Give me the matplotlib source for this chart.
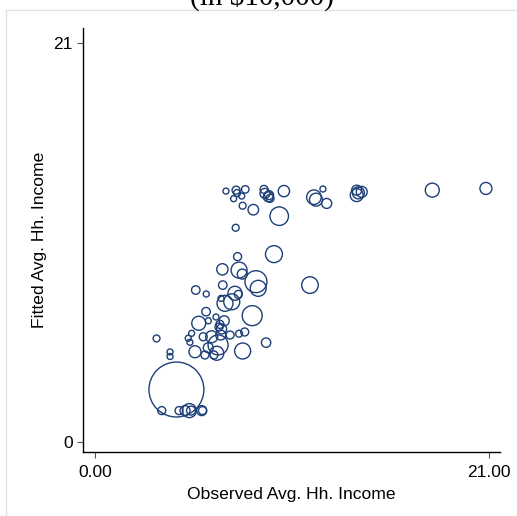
import numpy as np
import matplotlib
matplotlib.use('Agg')
from matplotlib import pyplot as plt
from matplotlib.patches import Rectangle

# observed vs fitted average household income (in $10,000), bubble weight = population
observed = [6.98, 7.52, 7.57, 7.82, 8.01, 7.39, 7.87, 8.44, 9.01, 9.06,
            9.24, 9.33, 9.28, 10.07, 9.82, 7.50, 11.67, 11.78, 12.15, 12.35,
            13.95, 14.04, 14.22, 13.95, 17.98, 20.84,
            9.54, 7.60, 6.79, 7.68, 7.85, 8.58, 8.70, 11.46, 6.81, 5.37,
            5.93, 7.46, 7.64, 6.93, 7.29, 6.72, 8.38, 5.92, 5.53, 6.45,
            6.89, 6.04, 6.66, 6.61, 6.75, 5.15, 5.77, 6.22, 6.70, 7.20,
            7.68, 7.98, 3.28, 4.97, 5.06, 6.56, 6.04, 5.33, 6.49, 6.34,
            5.86, 7.87, 9.12, 4.00, 4.00,
            4.34, 3.56, 4.48, 4.80, 5.03, 5.12, 5.69, 5.73]
fitted = [13.21, 13.26, 13.11, 12.95, 13.30, 12.81, 12.44, 12.23, 13.30, 13.09,
          12.91, 12.83, 13.00, 13.21, 11.89, 11.28, 12.89, 12.76, 13.32, 12.56,
          13.26, 13.12, 13.17, 13.00, 13.26, 13.35,
          9.89, 9.76, 9.09, 9.05, 8.84, 8.44, 8.09, 8.26, 8.26, 8.00,
          7.79, 7.83, 7.77, 7.30, 7.38, 7.56, 6.65, 6.86, 6.25, 6.58,
          6.38, 6.38, 6.19, 6.05, 5.95, 5.72, 5.54, 5.54, 5.63, 5.63,
          5.70, 5.79, 5.45, 5.46, 5.25, 5.11, 4.96, 4.75, 4.67, 4.58,
          4.58, 4.79, 5.23, 4.74, 4.50,
          2.76, 1.65, 1.65, 1.65, 1.65, 1.65, 1.65, 1.65]
population = [9, 16, 12, 9, 14, 9, 12, 28, 16, 25,
              25, 16, 20, 32, 86, 12, 53, 42, 9, 25,
              25, 36, 30, 42, 49, 36,
              72, 16, 32, 64, 25, 121, 64, 69, 18, 18,
              9, 49, 16, 64, 64, 9, 100, 18, 49, 9,
              25, 9, 16, 16, 25, 9, 16, 36, 25, 16,
              12, 16, 12, 9, 9, 100, 25, 36, 49, 16,
              16, 64, 22, 9, 9,
              756, 16, 16, 25, 49, 20, 25, 16]

x_ticks = [0, 21]
x_tick_labels = ['0.00', '21.00']
y_ticks = [0, 21]
y_tick_labels = ['0', '21']

NAVY = '#1d3f78'
plt.rcParams['font.family'] = ['Liberation Sans', 'DejaVu Sans']

fig = plt.figure(figsize=(5.17, 5.16), dpi=100)
ax = fig.add_axes([83 / 517, 1 - 452 / 516, (500 - 83) / 517, (452 - 28) / 516])

sizes = [2.07 * p for p in population]
ax.scatter(observed, fitted, s=sizes, facecolors='none', edgecolors=NAVY,
           linewidths=1.0)

ax.set_xlim(-0.64, 21.59)
ax.set_ylim(-0.53, 21.8)
ax.set_xticks(x_ticks)
ax.set_xticklabels(x_tick_labels)
ax.set_yticks(y_ticks)
ax.set_yticklabels(y_tick_labels)
ax.tick_params(axis='both', direction='out', length=4.3, width=0.8,
               color='#555555', labelsize=12.5, pad=3)
ax.tick_params(axis='x', pad=5)
for side in ['top', 'right']:
    ax.spines[side].set_visible(False)
for side in ['left', 'bottom']:
    ax.spines[side].set_linewidth(1.0)
ax.set_xlabel('Observed Avg. Hh. Income', fontsize=12.6, labelpad=5)
ax.set_ylabel('Fitted Avg. Hh. Income', fontsize=12.6, labelpad=5)

# graph region outline (partly off the canvas, as in the reference)
fig.patches.append(Rectangle((6 / 517, -0.1), 2, 1 - 10 / 516 + 0.1,
                             transform=fig.transFigure, fill=False,
                             edgecolor='#dde3ec', linewidth=1.0))
# title sits mostly above the canvas in the reference
fig.text(262 / 517, 1 - 5 / 516, '(in $10,000)', ha='center', va='baseline',
         fontsize=21, family=['Liberation Serif', 'DejaVu Serif'])

fig.savefig('out.png', dpi=100)
